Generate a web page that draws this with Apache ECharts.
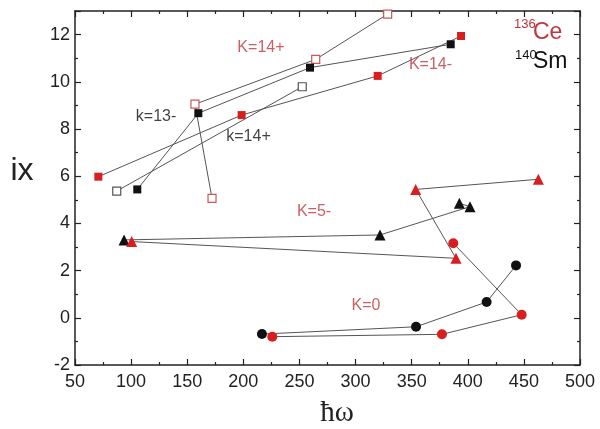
<!DOCTYPE html>
<html>
<head>
<meta charset="utf-8">
<script src="https://cdn.jsdelivr.net/npm/echarts@6/dist/echarts.min.js"></script>
<style>
  html, body { margin: 0; padding: 0; background: #fff; }
  #chart { width: 600px; height: 429px; }
</style>
</head>
<body>
<div id="chart"></div>
<script>
// axis ranges
var xRange = [50, 500, 50];
var yRange = [-2, 13, 2];

// 136Ce bands (red)
var ceK14minus = [[70.8, 5.98], [198.5, 8.59], [319.7, 10.25], [394, 11.94]];
var ceK14plus  = [[172.1, 5.06], [156.9, 9.05], [264.5, 10.95], [328.6, 12.87]];
var ceK5minus  = [[100.5, 3.23], [389.5, 2.52], [353.6, 5.44], [462.9, 5.87]];
var ceK0       = [[225.8, -0.80], [377, -0.70], [448, 0.13], [387.1, 3.16]];

// 140Sm bands (black)
var smK13minus = [[105.5, 5.44], [159.9, 8.67], [259.4, 10.6], [384.8, 11.59]];
var smK14plus  = [[87.2, 5.37], [252.5, 9.79]];
var smK5minus  = [[93.7, 3.30], [321.8, 3.51], [402, 4.71], [392.5, 4.85]];
var smK0       = [[216.6, -0.69], [353.9, -0.38], [416.8, 0.67], [443, 2.22]];

// band labels placed in data coordinates
var bandLabels = [
    { value: [215.7, 11.43], name: 'K=14+', color: '#c0363c' },
    { value: [366.8, 10.75], name: 'K=14-', color: '#c0363c' },
    { value: [122.2, 8.51],  name: 'k=13-', color: '#111' },
    { value: [204.6, 7.66],  name: 'k=14+', color: '#111' },
    { value: [263, 4.48],    name: 'K=5-',  color: '#c0363c' },
    { value: [309.3, 0.5],   name: 'K=0',   color: '#c0363c' }
];

var RED = '#d81e1e';
var TXT_RED = '#c0363c';
var LINE = '#555';
var FONT = 'Liberation Sans, Arial, sans-serif';

function band(data, symbol, size, fill, border) {
    return {
        type: 'line',
        data: data,
        symbol: symbol,
        symbolSize: size,
        showSymbol: true,
        lineStyle: { color: LINE, width: 1 },
        itemStyle: { color: fill, borderColor: border || fill, borderWidth: border ? 1.2 : 0, opacity: 1 },
        emphasis: { disabled: true },
        z: 2
    };
}

function axisBase(pos, range, showLabel) {
    return {
        type: 'value',
        position: pos,
        min: range[0],
        max: range[1],
        interval: range[2],
        axisLine: { show: true, onZero: false, lineStyle: { color: '#222', width: 1.5 } },
        axisTick: { show: true, inside: true, length: 6, lineStyle: { color: '#222', width: 1.2 } },
        minorTick: { show: true, splitNumber: 2, length: 3, lineStyle: { color: '#222', width: 1.2 } },
        splitLine: { show: false },
        axisLabel: {
            show: showLabel,
            showMaxLabel: pos === 'left' ? false : true,
            fontFamily: FONT,
            fontSize: 18,
            color: '#222',
            margin: pos === 'left' ? 5 : 8
        }
    };
}

var chart = echarts.init(document.getElementById('chart'));
var option = {
    animation: false,
    backgroundColor: '#fff',
    grid: { left: 75, right: 20, top: 11, bottom: 64, containLabel: false },
    xAxis: [axisBase('bottom', xRange, true), axisBase('top', xRange, false)],
    yAxis: [axisBase('left', yRange, true), axisBase('right', yRange, false)],
    series: [
        band(ceK14plus, 'rect', 8, '#fff', '#c85a5a'),
        band(smK14plus, 'rect', 8, '#fff', '#555'),
        band(ceK14minus, 'rect', 8, RED),
        band(smK13minus, 'rect', 8, '#111'),
        band(smK5minus, 'triangle', 11, '#111'),
        band(ceK5minus, 'triangle', 11, RED),
        band(smK0, 'circle', 10, '#111'),
        band(ceK0, 'circle', 10, RED),
        {
            type: 'scatter',
            symbolSize: 0,
            data: bandLabels.map(function (b) {
                return { value: b.value, name: b.name, label: { color: b.color } };
            }),
            label: {
                show: true,
                position: 'inside',
                formatter: '{b}',
                fontFamily: FONT,
                fontSize: 16
            },
            silent: true,
            z: 5
        }
    ],
    graphic: [
        { type: 'text', style: { text: 'ix', x: 22, y: 171, font: '32px ' + FONT, fill: '#222', textAlign: 'center', textVerticalAlign: 'middle' } },
        { type: 'text', style: { text: 'ħω', x: 337, y: 413, font: '29px Liberation Serif, serif', fill: '#222', textAlign: 'center', textVerticalAlign: 'middle' } },
        { type: 'text', style: { text: '136', x: 514, y: 24, font: '13px ' + FONT, fill: TXT_RED, textAlign: 'left', textVerticalAlign: 'middle' } },
        { type: 'text', style: { text: 'Ce', x: 533, y: 33, font: '23px ' + FONT, fill: TXT_RED, textAlign: 'left', textVerticalAlign: 'middle' } },
        { type: 'text', style: { text: '140', x: 515, y: 55, font: '13px ' + FONT, fill: '#111', textAlign: 'left', textVerticalAlign: 'middle' } },
        { type: 'text', style: { text: 'Sm', x: 533, y: 62, font: '23px ' + FONT, fill: '#111', textAlign: 'left', textVerticalAlign: 'middle' } }
    ]
};
chart.setOption(option);
</script>
</body>
</html>
